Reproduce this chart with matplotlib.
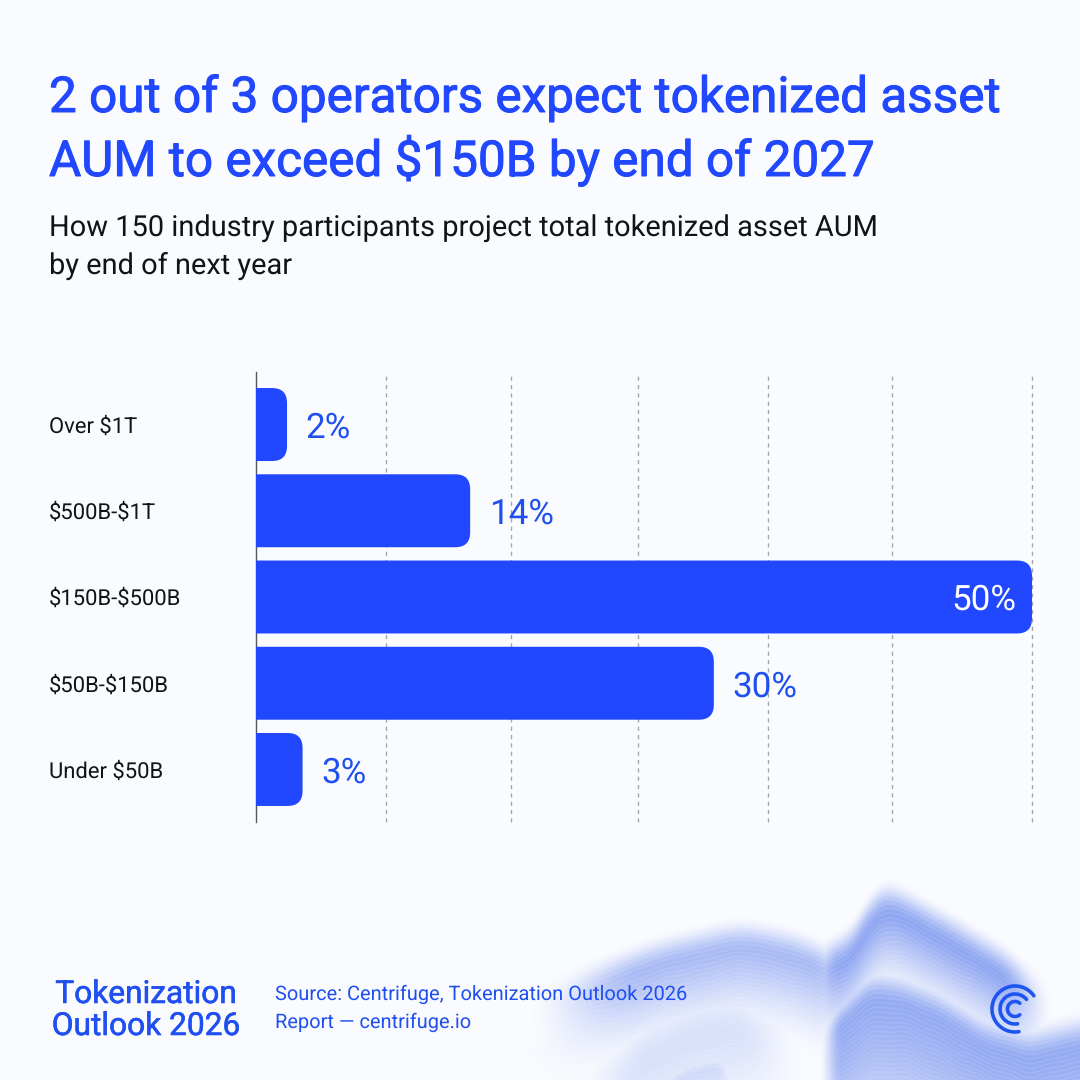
import numpy as np
import matplotlib
matplotlib.use("Agg")
import matplotlib.pyplot as plt
import matplotlib.patheffects as pe
from matplotlib.path import Path
from matplotlib.patches import PathPatch, Arc

categories = ["Over $1T", "$500B-$1T", "$150B-$500B", "$50B-$150B", "Under $50B"]
bar_lengths = [2.0, 13.8, 50.0, 29.5, 3.0]
value_labels = ["2%", "14%", "50%", "30%", "3%"]
grid_positions = [8.4, 16.4, 24.6, 33.0, 41.0, 50.0]

title_lines = ["2 out of 3 operators expect tokenized asset", "AUM to exceed $150B by end of 2027"]
subtitle_lines = ["How 150 industry participants project total tokenized asset AUM", "by end of next year"]
brand_lines = ["Tokenization", "Outlook 2026"]
source_lines = ["Source: Centrifuge, Tokenization Outlook 2026", "Report \u2014 centrifuge.io"]

BG = "#FAFBFF"
BLUE = "#2148FF"
TEXT_BLUE = "#1F4FF0"
INK = "#111318"
plt.rcParams["font.family"] = ["Roboto", "Inter", "DejaVu Sans"]
plt.rcParams["text.parse_math"] = False
plt.rcParams["text.hinting"] = "none"
plt.rcParams["text.hinting_factor"] = 1

fig = plt.figure(figsize=(10.8, 10.8), dpi=100, facecolor=BG)
page = fig.add_axes([0, 0, 1, 1])
page.axis("off")

# decorative contour-map mountains behind the footer
yy, xx = np.mgrid[880:1080:0.5, 480:1080:0.5]
xaxis = xx[0]
def sstep(a, b, v):
    t = np.clip((v - a) / (b - a), 0, 1)
    return t * t * (3 - 2 * t)
wave = 3.0 * np.sin(xx / 37.0) + 2.0 * np.sin(xx / 13.0 + 1.0) + 1.2 * np.sin(xx / 5.5)
def smooth_top(xs, ys, width=31):
    prof = np.interp(xaxis, xs, ys)
    pad = width * 2
    k = np.ones(width * 2 + 1) / (width * 2 + 1)
    padded = np.pad(prof, pad, mode="edge")
    for _ in range(2):
        padded = np.convolve(padded, k, mode="same")
    return padded[pad:-pad]
def ridge(xs, ys, soft_top, depth, x0, x1, x2, x3, amp, spacing=4.5, width=31):
    top = smooth_top(xs, ys, width)[None, :]
    d = yy - top
    up = sstep(-soft_top * 0.25, soft_top, d)
    down = (1 - sstep(0, depth, d)) ** 1.1
    window = sstep(x0, x1, xx) * (1 - sstep(x2, x3, xx))
    a = amp * up * down * window
    phase = (d + wave * sstep(0, 80, d)) / spacing
    line = np.exp(-((phase - np.round(phase)) * spacing / 0.8) ** 2)
    return a * (1 - 0.13 * line)
layers = [
    ridge([540, 600, 660, 740, 800, 830, 900], [985, 960, 938, 920, 932, 948, 960], 30, 125, 525, 640, 810, 880, 0.50),
    ridge([815, 850, 870, 885, 905, 950, 1000, 1040, 1080], [948, 930, 896, 882, 890, 915, 945, 975, 1000], 34, 125, 800, 840, 1000, 1055, 0.68, width=15),
    ridge([825, 850, 870, 900, 940, 985, 1030, 1080], [1012, 987, 968, 972, 988, 1016, 1028, 1016], 34, 260, 818, 842, 2000, 2100, 0.56, width=15),
    ridge([570, 640, 690, 730, 790], [1080, 1015, 990, 982, 1000], 60, 170, 560, 650, 730, 810, 0.24),
    ridge([650, 690, 720, 740], [1080, 1058, 1052, 1075], 22, 60, 650, 680, 715, 742, 0.30, width=8),
    ridge([510, 600, 700], [1035, 1018, 1030], 30, 55, 515, 570, 630, 700, 0.08),
    ridge([520, 640, 800], [982, 950, 940], 30, 75, 520, 620, 700, 790, 0.10),
]
f = np.maximum.reduce(layers)
rgba = np.zeros(xx.shape + (4,))
rgba[..., :3] = matplotlib.colors.to_rgb("#3A62E8")
rgba[..., 3] = np.clip(f, 0, 1)
page.imshow(rgba, extent=(480, 1080, 1080, 880), aspect="auto", interpolation="antialiased", zorder=0)
page.set_xlim(0, 1080)
page.set_ylim(1080, 0)

# chart
ax = fig.add_axes([256 / 1080, 1 - 822 / 1080, (1032 - 256) / 1080, (822 - 372) / 1080])
ax.patch.set_alpha(0)
ax.set_xlim(0, 50)
ax.set_ylim(4.609, -0.609)
for s in ax.spines.values():
    s.set_visible(False)
ax.spines["left"].set_visible(True)
ax.spines["left"].set_color("#55585F")
ax.spines["left"].set_linewidth(1.0)
ax.set_xticks(grid_positions)
ax.tick_params(axis="x", length=0, labelbottom=False)
ax.xaxis.grid(True, color="#A4A6AA", linestyle=(0, (3, 3)), linewidth=1.0, clip_on=False)
ax.set_axisbelow(True)
ax.set_yticks(range(len(categories)))
ax.set_yticklabels(categories, ha="left")
ax.tick_params(axis="y", length=0, pad=(256 - 49) * 0.72, labelsize=15.7, labelcolor=INK)

BAR_H = 0.846
RX = 15 / (776 / 50)
RY = 15 / (450 / 5.218)
for i, (v, lab) in enumerate(zip(bar_lengths, value_labels)):
    t, b = i - BAR_H / 2, i + BAR_H / 2
    verts = [(0, t), (v - RX, t), (v, t), (v, t + RY), (v, b - RY), (v, b), (v - RX, b), (0, b), (0, t)]
    codes = [Path.MOVETO, Path.LINETO, Path.CURVE3, Path.CURVE3, Path.LINETO, Path.CURVE3, Path.CURVE3, Path.LINETO, Path.CLOSEPOLY]
    ax.add_patch(PathPatch(Path(verts, codes), facecolor=BLUE, edgecolor="none", zorder=3))
    if v > 45:
        ax.annotate(lab, (v, i), xytext=(-11, 0), textcoords="offset points", ha="right", va="center_baseline",
                    fontsize=25.5, color="white", zorder=4)
    else:
        ax.annotate(lab, (v, i), xytext=(13.5, 0), textcoords="offset points", ha="left", va="center_baseline",
                    fontsize=25.5, color=TEXT_BLUE, zorder=4)

# texts
for line, y in zip(title_lines, [112, 176]):
    page.text(49, y, line, fontsize=35.6, color=BLUE, va="baseline", ha="left",
              path_effects=[pe.withStroke(linewidth=0.7, foreground=BLUE)])
for line, y in zip(subtitle_lines, [236, 274]):
    page.text(49, y, line, fontsize=20.6, color=INK, va="baseline", ha="left")
for line, y in zip(brand_lines, [1003, 1035]):
    page.text(147, y, line, fontsize=22.8, color=TEXT_BLUE, va="baseline", ha="center",
              path_effects=[pe.withStroke(linewidth=0.4, foreground=TEXT_BLUE)])
for line, y in zip(source_lines, [1000, 1028]):
    page.text(275, y, line, fontsize=14.05, color=TEXT_BLUE, va="baseline", ha="left")

# logo
for r, t1, t2 in [(23, 80, 325), (15, 80, 320), (7.5, 50, 310)]:
    page.add_patch(Arc((1015, 1009), 2 * r, 2 * r, theta1=t1, theta2=t2,
                       color="#1E55F0", lw=2.6, capstyle="round", zorder=5))

fig.savefig("out.png", dpi=100, facecolor=BG)
